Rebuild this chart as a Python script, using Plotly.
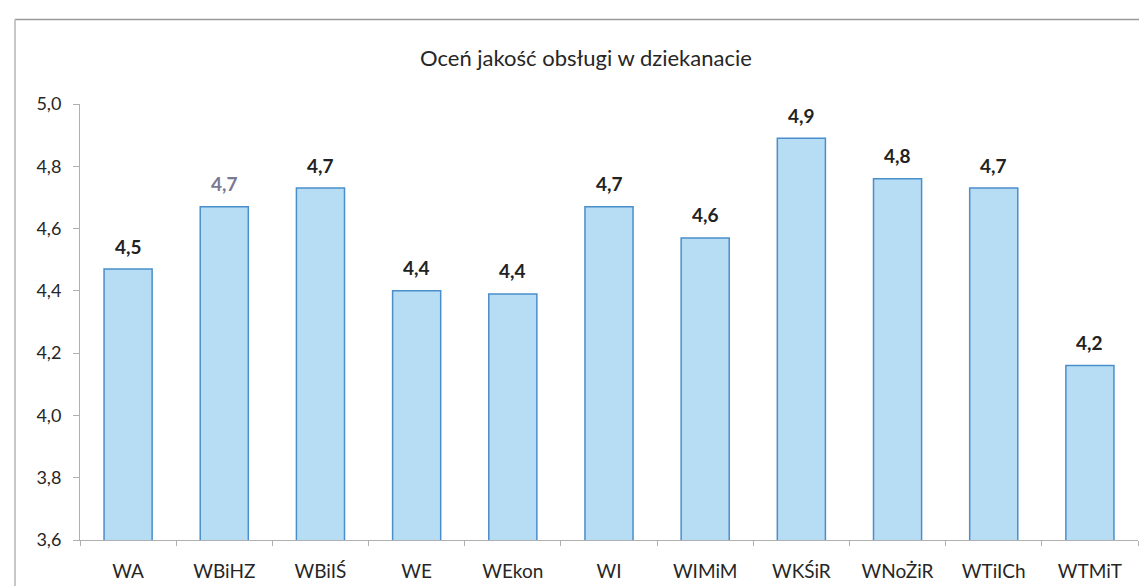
import plotly.graph_objects as go

categories = ["WA", "WBiHZ", "WBiIŚ", "WE", "WEkon", "WI", "WIMiM", "WKŚiR", "WNoŻiR", "WTiICh", "WTMiT"]
values = [4.47, 4.67, 4.73, 4.40, 4.39, 4.67, 4.57, 4.89, 4.76, 4.73, 4.16]
label_colors = ["#222222", "#7b7891", "#222222", "#222222", "#222222", "#222222",
                "#222222", "#222222", "#222222", "#222222", "#222222"]
title_text = "Oceń jakość obsługi w dziekanacie"
y_ticks = [3.6, 3.8, 4.0, 4.2, 4.4, 4.6, 4.8, 5.0]

FONT = "Lato, 'Open Sans', sans-serif"

W, H = 1147, 586
ml, mr, mt, mb = 72, 17, 96, 52
pw, ph = W - ml - mr, H - mt - mb


def px(xp):
    return (xp - ml) / pw


def py(yp):
    return 1 - (yp - mt) / ph


fig = go.Figure()
fig.add_trace(go.Bar(
    x=categories,
    y=values,
    marker=dict(color="#b7ddf5", line=dict(color="#4a8ecb", width=1.5)),
    hoverinfo="x+y",
))

annotations = []
for c, v, col in zip(categories, values, label_colors):
    annotations.append(dict(
        x=c, y=v, xref="x", yref="y",
        text="<b>" + f"{v:.1f}".replace(".", ",") + "</b>",
        showarrow=False, yshift=23,
        font=dict(family=FONT, size=19, color=col),
    ))

annotations.append(dict(
    x=px(578), y=py(49), xref="paper", yref="paper", text=title_text, showarrow=False,
    xanchor="center", yanchor="middle",
    font=dict(family=FONT, size=22, color="#262626"),
))

fig.update_layout(
    width=W, height=H, autosize=False,
    margin=dict(l=ml, r=mr, t=mt, b=mb, pad=0),
    paper_bgcolor="white", plot_bgcolor="white",
    separators=", ",
    bargap=0.5,
    showlegend=False,
    annotations=annotations,
    font=dict(family=FONT, color="#262626"),
    xaxis=dict(
        type="category",
        showline=True, linecolor="#b0b0b0", linewidth=1,
        ticks="outside", tickson="boundaries", ticklen=5, tickcolor="#b0b0b0",
        tickfont=dict(family=FONT, size=19, color="#262626"),
        ticklabelstandoff=14,
        showgrid=False, zeroline=False,
    ),
    yaxis=dict(
        range=[3.6, 5.0],
        tickvals=y_ticks,
        tickformat=".1f",
        showline=True, linecolor="#b0b0b0", linewidth=1,
        ticks="outside", ticklen=6, tickcolor="#b0b0b0",
        tickfont=dict(family=FONT, size=18, color="#262626"),
        ticklabelstandoff=8,
        showgrid=False, zeroline=False,
    ),
    shapes=[
        dict(type="line", xref="paper", yref="paper",
             x0=px(7), x1=px(1147), y0=py(11), y1=py(11),
             line=dict(color="#9a9a9a", width=1.5)),
        dict(type="line", xref="paper", yref="paper",
             x0=px(7), x1=px(7), y0=py(11), y1=py(586),
             line=dict(color="#b5b5b5", width=1.5)),
    ],
)

fig.write_html("out.html")
